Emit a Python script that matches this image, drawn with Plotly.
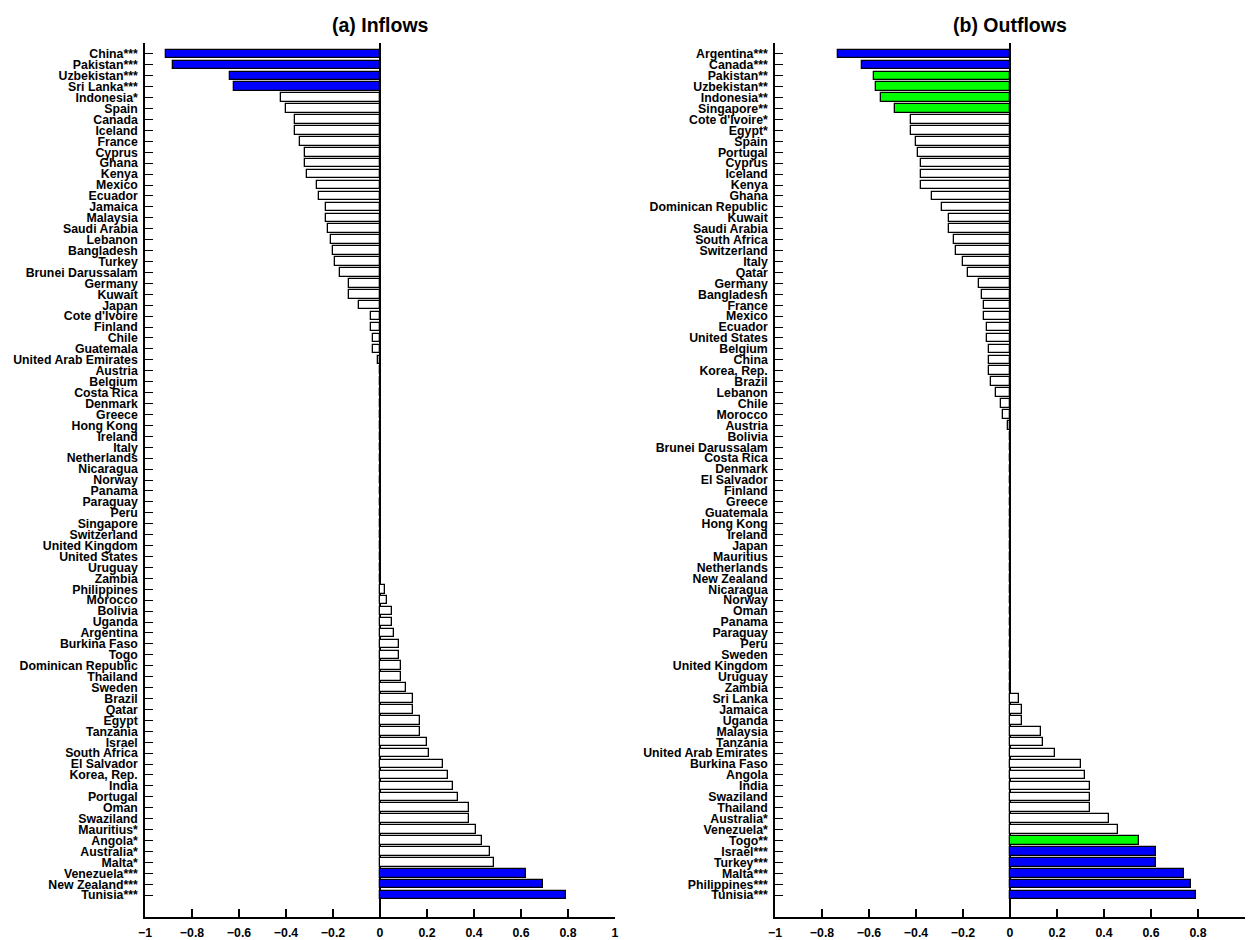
import plotly.graph_objects as go

in_names = ["China***", "Pakistan***", "Uzbekistan***", "Sri Lanka***", "Indonesia*", "Spain", "Canada",
            "Iceland", "France", "Cyprus", "Ghana", "Kenya", "Mexico", "Ecuador", "Jamaica", "Malaysia",
            "Saudi Arabia", "Lebanon", "Bangladesh", "Turkey", "Brunei Darussalam", "Germany", "Kuwait",
            "Japan", "Cote d'Ivoire", "Finland", "Chile", "Guatemala", "United Arab Emirates", "Austria",
            "Belgium", "Costa Rica", "Denmark", "Greece", "Hong Kong", "Ireland", "Italy", "Netherlands",
            "Nicaragua", "Norway", "Panama", "Paraguay", "Peru", "Singapore", "Switzerland",
            "United Kingdom", "United States", "Uruguay", "Zambia", "Philippines", "Morocco", "Bolivia",
            "Uganda", "Argentina", "Burkina Faso", "Togo", "Dominican Republic", "Thailand", "Sweden",
            "Brazil", "Qatar", "Egypt", "Tanzania", "Israel", "South Africa", "El Salvador", "Korea, Rep.",
            "India", "Portugal", "Oman", "Swaziland", "Mauritius*", "Angola*", "Australia*", "Malta*",
            "Venezuela***", "New Zealand***", "Tunisia***"]
in_vals = [-0.91, -0.88, -0.64, -0.62, -0.42, -0.40, -0.36,
           -0.36, -0.34, -0.32, -0.32, -0.31, -0.27, -0.26, -0.23, -0.23,
           -0.22, -0.21, -0.20, -0.19, -0.17, -0.13, -0.13,
           -0.09, -0.04, -0.04, -0.03, -0.03, -0.01, 0.0,
           0.0, 0.0, 0.0, 0.0, 0.0, 0.0, 0.0, 0.0,
           0.0, 0.0, 0.0, 0.0, 0.0, 0.0, 0.0,
           0.0, 0.0, 0.0, 0.0, 0.02, 0.03, 0.05,
           0.05, 0.06, 0.08, 0.08, 0.09, 0.09, 0.11,
           0.14, 0.14, 0.17, 0.17, 0.20, 0.21, 0.27, 0.29,
           0.31, 0.33, 0.38, 0.38, 0.41, 0.435, 0.47, 0.485,
           0.62, 0.695, 0.79]

out_names = ["Argentina***", "Canada***", "Pakistan**", "Uzbekistan**", "Indonesia**", "Singapore**",
             "Cote d'Ivoire*", "Egypt*", "Spain", "Portugal", "Cyprus", "Iceland", "Kenya", "Ghana",
             "Dominican Republic", "Kuwait", "Saudi Arabia", "South Africa", "Switzerland", "Italy",
             "Qatar", "Germany", "Bangladesh", "France", "Mexico", "Ecuador", "United States", "Belgium",
             "China", "Korea, Rep.", "Brazil", "Lebanon", "Chile", "Morocco", "Austria", "Bolivia",
             "Brunei Darussalam", "Costa Rica", "Denmark", "El Salvador", "Finland", "Greece",
             "Guatemala", "Hong Kong", "Ireland", "Japan", "Mauritius", "Netherlands", "New Zealand",
             "Nicaragua", "Norway", "Oman", "Panama", "Paraguay", "Peru", "Sweden", "United Kingdom",
             "Uruguay", "Zambia", "Sri Lanka", "Jamaica", "Uganda", "Malaysia", "Tanzania",
             "United Arab Emirates", "Burkina Faso", "Angola", "India", "Swaziland", "Thailand",
             "Australia*", "Venezuela*", "Togo**", "Israel***", "Turkey***", "Malta***",
             "Philippines***", "Tunisia***"]
out_vals = [-0.73, -0.63, -0.58, -0.57, -0.55, -0.49,
            -0.42, -0.42, -0.40, -0.39, -0.38, -0.38, -0.38, -0.33,
            -0.29, -0.26, -0.26, -0.24, -0.23, -0.20,
            -0.18, -0.13, -0.12, -0.11, -0.11, -0.10, -0.10, -0.09,
            -0.09, -0.09, -0.08, -0.06, -0.04, -0.03, -0.01, 0.0,
            0.0, 0.0, 0.0, 0.0, 0.0, 0.0,
            0.0, 0.0, 0.0, 0.0, 0.0, 0.0, 0.0,
            0.0, 0.0, 0.0, 0.0, 0.0, 0.0, 0.0, 0.0,
            0.0, 0.0, 0.04, 0.05, 0.05, 0.13, 0.14,
            0.19, 0.30, 0.32, 0.34, 0.34, 0.34,
            0.42, 0.46, 0.55, 0.62, 0.62, 0.74,
            0.77, 0.79]

x_tickvals = [-1, -0.8, -0.6, -0.4, -0.2, 0, 0.2, 0.4, 0.6, 0.8, 1]
x_ticktext = ["\u22121", "\u22120.8", "\u22120.6", "\u22120.4", "\u22120.2", "0",
              "0.2", "0.4", "0.6", "0.8", "1"]
titles = ["(a) Inflows", "(b) Outflows"]


def bar_color(name):
    if name.endswith("***"):
        return "#0000ff"
    if name.endswith("**"):
        return "#00ff00"
    return "#ffffff"


W, H = 1248, 940
FONT = "Liberation Sans, Arial, Helvetica, sans-serif"

fig = go.Figure()
panels = [(in_names, in_vals, "x", "y"), (out_names, out_vals, "x2", "y2")]
for names, vals, xa, ya in panels:
    fig.add_trace(go.Bar(
        orientation="h",
        x=vals,
        y=list(range(len(names))),
        width=0.78,
        marker=dict(color=[bar_color(n) for n in names],
                    line=dict(color="black", width=1.3)),
        xaxis=xa, yaxis=ya,
        showlegend=False,
        hoverinfo="x+y",
    ))

y_bot = (H - 917) / H
y_top = (H - 43) / H
doms = [(145 / W, 615 / W), (775 / W, 1245 / W)]

axis_font = dict(family=FONT, size=12.3, color="black", weight="bold")

for i, (names, vals, xa, ya) in enumerate(panels):
    sfx = "" if i == 0 else "2"
    fig.update_layout(**{
        "xaxis" + sfx: dict(
            domain=list(doms[i]), anchor="y" + sfx, range=[-1, 1],
            showline=True, linecolor="black", linewidth=1.5,
            ticks="inside", ticklen=8, tickwidth=1.5, tickcolor="black",
            tickvals=x_tickvals, ticktext=x_ticktext, tickfont=axis_font,
            showgrid=False, zeroline=True, zerolinecolor="black", zerolinewidth=1.5,
            automargin=False, fixedrange=True, ticklabelstandoff=3,
        ),
        "yaxis" + sfx: dict(
            domain=[y_bot, y_top], anchor="x" + sfx, range=[79, -1],
            showline=True, linecolor="black", linewidth=1.5,
            ticks="inside", ticklen=8, tickwidth=1.2, tickcolor="black",
            tickvals=list(range(len(names))), ticktext=names, tickfont=axis_font,
            showgrid=False, zeroline=False, automargin=False, fixedrange=True,
            ticklabelstandoff=3,
        ),
    })
    fig.add_annotation(
        x=(doms[i][0] + doms[i][1]) / 2, y=1 - 25 / H, xref="paper", yref="paper",
        text=titles[i], showarrow=False, xanchor="center", yanchor="middle",
        font=dict(family=FONT, size=19.5, color="black", weight="bold"),
    )

fig.update_layout(
    width=W, height=H,
    margin=dict(l=0, r=0, t=0, b=0),
    paper_bgcolor="white", plot_bgcolor="white",
    bargap=0,
)

fig.write_html("out.html",
               config={"displayModeBar": False},
               post_script="document.body.style.margin='0px';document.body.style.padding='0px';")
